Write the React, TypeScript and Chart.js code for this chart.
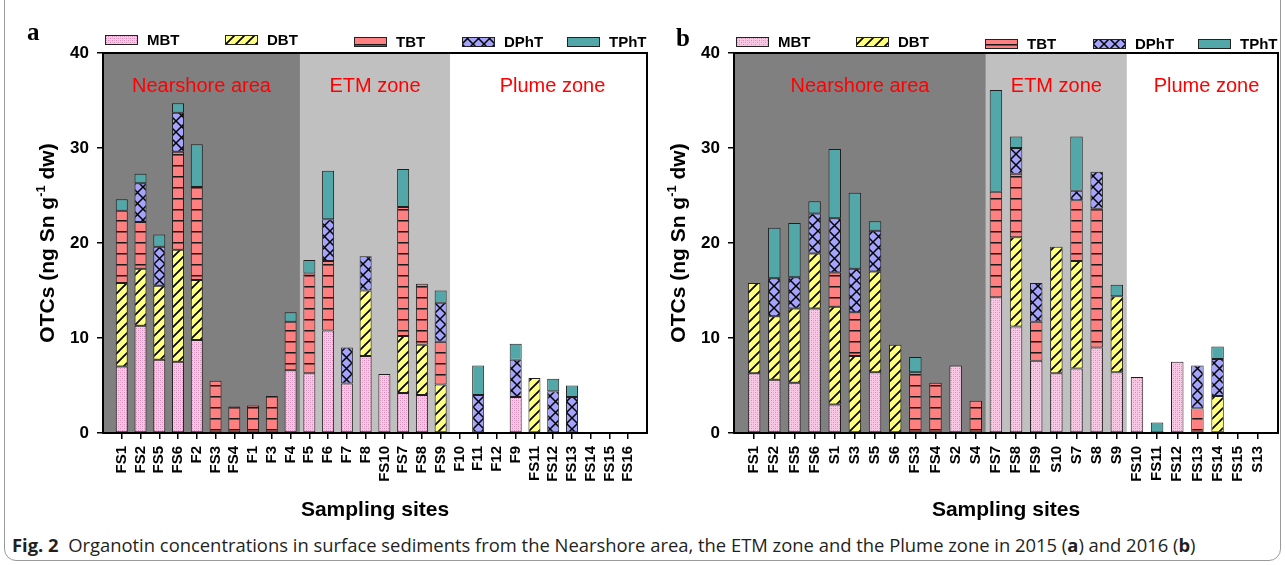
import React, { useEffect, useRef } from 'react';
import { Chart, registerables } from 'chart.js';

Chart.register(...registerables);

// ---------------- data ----------------
const seriesNames = ['MBT', 'DBT', 'TBT', 'DPhT', 'TPhT'];
const zoneNames = ['Nearshore area', 'ETM zone', 'Plume zone'];
const yMax = 40;
const yStep = 10;

// 2015 (panel a)
const sites2015 = ['FS1', 'FS2', 'FS5', 'FS6', 'F2', 'FS3', 'FS4', 'F1', 'F3', 'F4', 'F5', 'F6', 'F7', 'F8', 'FS10', 'FS7', 'FS8', 'FS9', 'F10', 'F11', 'F12', 'F9', 'FS11', 'FS12', 'FS13', 'FS14', 'FS15', 'FS16'];
const mbt2015 = [7.0, 11.3, 7.7, 7.5, 9.8, null, null, null, null, 6.6, 6.3, 10.8, 5.2, 8.1, 6.2, 4.2, 4.0, null, null, null, null, 3.8, null, null, null, null, null, null];
const dbt2015 = [8.8, 6.0, 7.8, 11.8, 6.3, null, null, null, null, null, null, null, null, 6.9, null, 6.0, 5.3, 5.1, null, null, null, null, 5.8, null, null, null, null, null];
const tbt2015 = [7.6, 4.9, null, 10.3, 9.8, 5.5, 2.8, 2.9, 3.9, 5.1, 10.5, 7.3, null, null, null, 13.6, 6.4, 4.5, null, null, null, null, null, null, null, null, null, null];
const dpht2015 = [null, 4.1, 4.1, 4.1, null, null, null, null, null, null, null, 4.4, 3.8, 3.6, null, null, null, 4.1, null, 4.0, null, 3.9, null, 4.4, 3.8, null, null, null];
const tpht2015 = [1.2, 1.0, 1.3, 1.0, 4.5, null, null, null, null, 1.0, 1.4, 5.1, null, null, null, 4.0, null, 1.3, null, 3.1, null, 1.7, null, 1.3, 1.2, null, null, null];
const lastSiteOfZone2015 = ['F4', 'FS9'];

// 2016 (panel b)
const sites2016 = ['FS1', 'FS2', 'FS5', 'FS6', 'S1', 'S3', 'S5', 'S6', 'FS3', 'FS4', 'S2', 'S4', 'FS7', 'FS8', 'FS9', 'S10', 'S7', 'S8', 'S9', 'FS10', 'FS11', 'FS12', 'FS13', 'FS14', 'FS15', 'S13'];
const mbt2016 = [6.3, 5.6, 5.3, 13.1, 3.0, null, 6.4, null, null, null, 7.1, null, 14.3, 11.2, 7.6, 6.3, 6.8, 9.0, 6.4, 5.9, null, 7.5, null, null, null, null];
const dbt2016 = [9.5, 6.7, 7.8, 5.8, 10.3, 8.1, 10.6, 9.3, null, null, null, null, null, 9.4, null, 13.3, 11.3, null, 8.0, null, null, null, null, 3.9, null, null];
const tbt2016 = [null, null, null, null, 3.6, 4.6, null, null, 6.4, 5.3, null, 3.4, 11.1, 6.7, 4.1, null, 6.4, 14.6, null, null, null, null, 2.6, null, null, null];
const dpht2016 = [null, 4.0, 3.3, 4.2, 5.7, 4.6, 4.3, null, null, null, null, null, null, 2.7, 4.1, null, 1.0, 3.9, null, null, null, null, 4.5, 3.9, null, null];
const tpht2016 = [null, 5.3, 5.7, 1.3, 7.3, 8.0, 1.0, null, 1.6, null, null, null, 10.7, 1.2, null, null, 5.7, null, 1.2, null, 1.1, null, null, 1.3, null, null];
const lastSiteOfZone2016 = ['S4', 'S9'];

// ---------------- styling ----------------
const SANS = '"Liberation Sans", Arial, Helvetica, sans-serif';
const SERIF = '"Liberation Serif", "Times New Roman", serif';
const zoneFills = ['#808080', '#c0c0c0', '#ffffff'];

function makePattern(kind: string): CanvasPattern | string {
  const c = document.createElement('canvas');
  const x = c.getContext('2d') as CanvasRenderingContext2D;
  if (kind === 'MBT') {
    c.width = 4; c.height = 4;
    x.fillStyle = '#f8c8e4'; x.fillRect(0, 0, 4, 4);
    x.fillStyle = '#d38cb8'; x.fillRect(0, 0, 1, 1); x.fillRect(2, 2, 1, 1);
    x.fillStyle = '#e7a8cf'; x.fillRect(2, 0, 1, 1); x.fillRect(0, 2, 1, 1);
  } else if (kind === 'DBT') {
    c.width = 10; c.height = 10;
    x.fillStyle = '#ffff80'; x.fillRect(0, 0, 10, 10);
    x.strokeStyle = '#000'; x.lineWidth = 1.7;
    x.beginPath();
    x.moveTo(-2, 12); x.lineTo(12, -2);
    x.moveTo(-2, 2); x.lineTo(2, -2);
    x.moveTo(8, 12); x.lineTo(12, 8);
    x.stroke();
  } else if (kind === 'TBT') {
    c.width = 8; c.height = 11;
    x.fillStyle = '#ff8080'; x.fillRect(0, 0, 8, 11);
    x.fillStyle = '#1a1a1a'; x.fillRect(0, 0, 8, 1);
    x.fillStyle = 'rgba(0,0,0,0.45)'; x.fillRect(0, 1, 8, 1);
  } else if (kind === 'DPhT') {
    c.width = 11; c.height = 11;
    x.fillStyle = '#a4a4ff'; x.fillRect(0, 0, 11, 11);
    x.strokeStyle = '#000'; x.lineWidth = 1.5;
    x.beginPath();
    x.moveTo(0, 0); x.lineTo(11, 11);
    x.moveTo(11, 0); x.lineTo(0, 11);
    x.stroke();
  } else {
    return '#52a8a8';
  }
  return x.createPattern(c, 'repeat') as CanvasPattern;
}

type PanelProps = {
  letter: string;
  sites: string[];
  series: (number | null)[][];
  lastSiteOfZone: string[];
  left: number;
  width: number;
  legendTop: number;
  letterX: number;
  letterY: number;
  barPct: number;
};

const CANVAS_H = 525;

function Panel(props: PanelProps) {
  const ref = useRef<HTMLCanvasElement | null>(null);
  useEffect(() => {
    const canvas = ref.current;
    if (!canvas) return;
    const fills = seriesNames.map((n) => makePattern(n));

    const overlay = {
      id: 'panelOverlay',
      beforeDraw(chart: any) {
        const { ctx, chartArea } = chart;
        const xs = chart.scales.x;
        const ends = props.lastSiteOfZone.map((s) => props.sites.indexOf(s));
        const bounds = [chartArea.left];
        ends.forEach((e) => bounds.push((xs.getPixelForValue(e) + xs.getPixelForValue(e + 1)) / 2));
        bounds.push(chartArea.right);
        ctx.save();
        for (let z = 0; z < zoneNames.length; z++) {
          ctx.fillStyle = zoneFills[z];
          ctx.fillRect(bounds[z], chartArea.top, bounds[z + 1] - bounds[z], chartArea.bottom - chartArea.top);
        }
        ctx.fillStyle = '#ff0000';
        ctx.font = `20px ${SANS}`;
        ctx.textAlign = 'center';
        ctx.textBaseline = 'alphabetic';
        for (let z = 0; z < zoneNames.length; z++) {
          ctx.fillText(zoneNames[z], (bounds[z] + bounds[z + 1]) / 2 + (z === 2 ? 4 : 0), chartArea.top + 39);
        }
        ctx.restore();
      },
      afterDatasetsDraw(chart: any) {
        const { ctx, chartArea } = chart;
        ctx.save();
        ctx.strokeStyle = '#000';
        ctx.lineWidth = 2;
        ctx.strokeRect(chartArea.left, chartArea.top, chartArea.right - chartArea.left, chartArea.bottom - chartArea.top);
        ctx.restore();
      },
      afterDraw(chart: any) {
        const { ctx, chartArea } = chart;
        ctx.save();
        // legend
        const offs = [2, 122, 251, 359, 464];
        seriesNames.forEach((name, k) => {
          const x0 = chartArea.left + offs[k];
          const y0 = props.legendTop + (k >= 2 ? 2 : 0);
          ctx.fillStyle = fills[k];
          ctx.fillRect(x0, y0, 33, 10);
          ctx.strokeStyle = '#222';
          ctx.lineWidth = 1;
          ctx.strokeRect(x0 + 0.5, y0 + 0.5, 32, 9);
          ctx.fillStyle = '#000';
          ctx.font = `bold 15px ${SANS}`;
          ctx.textAlign = 'left';
          ctx.textBaseline = 'middle';
          ctx.fillText(name, x0 + 42, y0 + 5.5);
        });
        // panel letter
        ctx.font = `bold 25px ${SERIF}`;
        ctx.textAlign = 'left';
        ctx.textBaseline = 'alphabetic';
        ctx.fillText(props.letter, props.letterX, props.letterY);
        // x title
        ctx.font = `bold 21px ${SANS}`;
        ctx.textAlign = 'center';
        ctx.textBaseline = 'middle';
        ctx.fillText('Sampling sites', (chartArea.left + chartArea.right) / 2, 510);
        // y title with superscript
        const big = `bold 21px ${SANS}`;
        const small = `bold 13px ${SANS}`;
        const p1 = 'OTCs (ng Sn g';
        const p2 = '-1';
        const p3 = ' dw)';
        ctx.font = big; const w1 = ctx.measureText(p1).width; const w3 = ctx.measureText(p3).width;
        ctx.font = small; const w2 = ctx.measureText(p2).width;
        const total = w1 + w2 + w3;
        ctx.translate(chartArea.left - 49, (chartArea.top + chartArea.bottom) / 2);
        ctx.rotate(-Math.PI / 2);
        ctx.textAlign = 'left';
        ctx.textBaseline = 'alphabetic';
        let cx = -total / 2;
        ctx.font = big; ctx.fillText(p1, cx, 0); cx += w1;
        ctx.font = small; ctx.fillText(p2, cx, -9); cx += w2;
        ctx.font = big; ctx.fillText(p3, cx, 0);
        ctx.restore();
      },
    };

    const chart = new Chart(canvas, {
      type: 'bar',
      data: {
        labels: props.sites,
        datasets: seriesNames.map((name, k) => ({
          label: name,
          data: props.series[k] as any,
          backgroundColor: fills[k] as any,
          borderColor: '#1e1e1e',
          borderWidth: 1,
          borderSkipped: false,
          barPercentage: props.barPct,
          categoryPercentage: 1,
        })),
      },
      options: {
        responsive: false,
        animation: false,
        devicePixelRatio: 1,
        layout: { padding: { left: 63, top: 53, right: props.width - 63 - 40 - 544, bottom: 0 } },
        plugins: { legend: { display: false }, tooltip: { enabled: false }, title: { display: false } },
        scales: {
          x: {
            stacked: true,
            offset: true,
            grid: { offset: false, drawOnChartArea: false, drawTicks: true, tickLength: 6, color: '#000', lineWidth: 1.5 },
            border: { display: true, color: '#000', width: 2 },
            ticks: {
              autoSkip: false, maxRotation: 90, minRotation: 90, padding: 7, color: '#000',
              font: { family: SANS, weight: 'bold', size: 15 },
            },
            afterBuildTicks: (s: any) => {
              s._startValue = s.min - 1;
              s._valueRange = s.max - s.min + 2;
            },
            afterFit: (s: any) => { s.height = CANVAS_H - 433; },
          },
          y: {
            stacked: true,
            min: 0,
            max: yMax,
            ticks: { stepSize: yStep, padding: 8, color: '#000', font: { family: SANS, weight: 'bold', size: 17 } },
            grid: { drawOnChartArea: false, drawTicks: true, tickLength: 6, color: '#000', lineWidth: 1.5 },
            border: { display: true, color: '#000', width: 2 },
            afterFit: (s: any) => { s.width = 40; },
          },
        },
      } as any,
      plugins: [overlay],
    });
    return () => chart.destroy();
  }, []);
  return (
    <canvas
      ref={ref}
      width={props.width}
      height={CANVAS_H}
      style={{ position: 'absolute', left: props.left, top: 0, width: props.width, height: CANVAS_H }}
    />
  );
}

export default function App() {
  return (
    <div style={{ position: 'absolute', left: 0, top: 0, width: 1285, height: 565, background: '#fff', overflow: 'hidden' }}>
      <div
        style={{
          position: 'absolute', left: 4, top: -20, width: 1277, height: 581,
          border: '1px solid #9a9a9a', borderRadius: 12, boxSizing: 'border-box',
        }}
      />
      <Panel
        letter="a"
        sites={sites2015}
        series={[mbt2015, dbt2015, tbt2015, dpht2015, tpht2015]}
        lastSiteOfZone={lastSiteOfZone2015}
        left={0}
        width={655}
        legendTop={35}
        letterX={27}
        letterY={40}
        barPct={0.64}
      />
      <Panel
        letter="b"
        sites={sites2016}
        series={[mbt2016, dbt2016, tbt2016, dpht2016, tpht2016]}
        lastSiteOfZone={lastSiteOfZone2016}
        left={631}
        width={654}
        legendTop={37}
        letterX={45}
        letterY={46}
        barPct={0.62}
      />
      <div
        style={{
          position: 'absolute', left: 12, top: 532, whiteSpace: 'nowrap',
          fontFamily: '"Open Sans", "Noto Sans", sans-serif', fontSize: 18.4, color: '#231f20',
        }}
      >
        <b>Fig. 2</b>&nbsp;&nbsp;Organotin concentrations in surface sediments from the Nearshore area, the ETM zone and the Plume zone in 2015 (<b>a</b>) and 2016 (<b>b</b>)
      </div>
    </div>
  );
}
